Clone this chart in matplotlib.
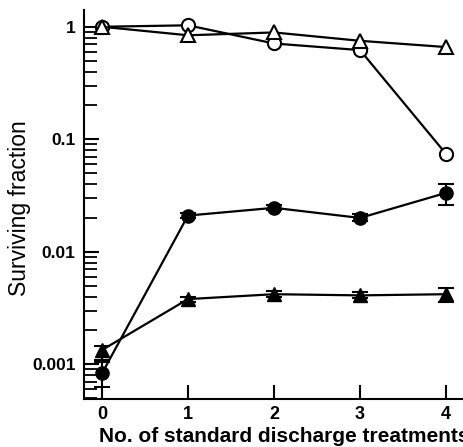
import numpy as np
import matplotlib.pyplot as plt

plt.rcParams['font.family'] = ['Liberation Sans', 'DejaVu Sans']

# data
treatments = [0, 1, 2, 3, 4]

open_circle = [1.0, 1.03, 0.71, 0.62, 0.074]
open_triangle = [1.0, 0.84, 0.89, 0.75, 0.66]

filled_circle = [0.00083, 0.021, 0.0246, 0.020, 0.0334]
filled_circle_lo = [0.00063, 0.0198, 0.0234, 0.0186, 0.0258]
filled_circle_hi = [0.00105, 0.0222, 0.0258, 0.0216, 0.040]

filled_triangle = [0.00134, 0.0038, 0.0042, 0.0041, 0.0042]
filled_triangle_lo = [0.00109, 0.0036, 0.0040, 0.0039, 0.0036]
filled_triangle_hi = [0.00147, 0.0040, 0.0045, 0.0044, 0.0048]


fig = plt.figure(figsize=(4.64, 4.47), dpi=100)
ax = fig.add_axes([0.181, 0.1074, 0.862, 0.870])

lw = 1.6
ms = 9.5


def err(y, lo, hi):
    y = np.asarray(y)
    return [y - np.asarray(lo), np.asarray(hi) - y]


ax.plot(treatments, open_circle, '-o', color='black', lw=lw, ms=ms,
        mfc='white', mec='black', mew=1.5, zorder=3)
ax.plot(treatments, open_triangle, '-^', color='black', lw=lw, ms=ms,
        mfc='white', mec='black', mew=1.5, zorder=3)

ax.errorbar(treatments, filled_circle,
            yerr=err(filled_circle, filled_circle_lo, filled_circle_hi),
            fmt='-o', color='black', lw=lw, ms=ms, elinewidth=1.5,
            capsize=5.5, capthick=1.5, zorder=3)
ax.errorbar(treatments, filled_triangle,
            yerr=err(filled_triangle, filled_triangle_lo, filled_triangle_hi),
            fmt='-^', color='black', lw=lw, ms=ms, elinewidth=1.5,
            capsize=5.5, capthick=1.5, zorder=3)

ax.set_yscale('log')
ax.set_ylim(10 ** -3.308, 10 ** 0.148)
ax.set_xlim(-0.209, 4.44)

ax.spines['top'].set_visible(False)
ax.spines['right'].set_visible(False)
ax.spines['left'].set_linewidth(1.5)
ax.spines['bottom'].set_linewidth(1.5)

ax.set_xticks(treatments)
ax.set_xticklabels([str(t) for t in treatments], fontsize=13, fontweight='bold')
ax.set_yticks([0.001, 0.01, 0.1, 1])
ax.set_yticklabels(['0.001', '0.01', '0.1', '1'], fontsize=12.5, fontweight='bold')

ax.tick_params(axis='x', direction='in', length=10, width=1.5, pad=5)
ax.tick_params(axis='y', which='major', direction='in', length=11, width=1.5, pad=6)
ax.tick_params(axis='y', which='minor', direction='in', length=9, width=1.3)
ax.yaxis.set_minor_formatter(plt.NullFormatter())

ax.set_ylabel('Surviving fraction', fontsize=16.5, fontweight='medium')
ax.set_xlabel('No. of standard discharge treatments', fontsize=15,
              fontweight='bold', labelpad=3)
ax.yaxis.set_label_coords(-0.1325, 0.49)

fig.savefig('out.png', dpi=100)
